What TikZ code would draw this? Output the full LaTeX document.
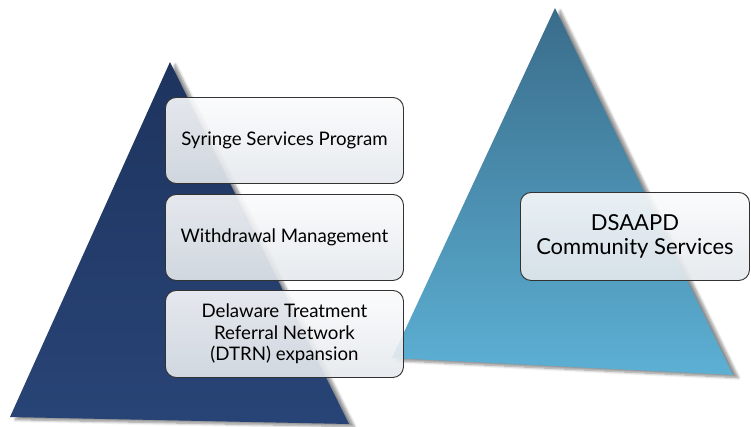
\documentclass[tikz,border=0pt]{standalone}
\usepackage{fontspec}
\setmainfont{Lato}
\usetikzlibrary{shadows,shadows.blur}
\definecolor{navytop}{RGB}{30,52,95}
\definecolor{navybot}{RGB}{40,68,118}
\definecolor{tealtop}{RGB}{58,108,138}
\definecolor{tealbot}{RGB}{92,176,212}
\definecolor{boxtop}{RGB}{250,251,252}
\definecolor{boxbot}{RGB}{228,232,236}
\definecolor{boxline}{RGB}{50,50,50}
\tikzset{
  tri/.style={blur shadow={shadow xshift=4pt,shadow yshift=-2pt,shadow blur steps=6,shadow opacity=45}},
  itembox/.style={draw=boxline,line width=0.7pt,rounded corners=8pt,
    top color=boxtop,bottom color=boxbot,fill opacity=0.9,text opacity=1,
    align=center,inner sep=0pt,anchor=north west,font=\fontsize{14pt}{16pt}\selectfont},
}
\begin{document}
\begin{tikzpicture}[x=0.75pt,y=-0.75pt]
\useasboundingbox (0,0) rectangle (751,426);
% left triangle
\path[tri,top color=navytop,bottom color=navybot] (170,62) -- (10,417) -- (349,424) -- cycle;
% right triangle
\path[tri,top color=tealtop,bottom color=tealbot] (555,8) -- (392,358) -- (733,375) -- cycle;
% boxes
\node[itembox,minimum width=238*0.75pt,minimum height=86*0.75pt] (b1) at (165,97)
  {Syringe Services Program};
\node[itembox,minimum width=238*0.75pt,minimum height=86*0.75pt] (b2) at (165,194)
  {Withdrawal Management};
\node[itembox,minimum width=238*0.75pt,minimum height=87*0.75pt] (b3) at (165,290)
  {Delaware Treatment\\Referral Network\\(DTRN) expansion};
\node[itembox,minimum width=229*0.75pt,minimum height=88*0.75pt,font=\fontsize{16.5pt}{18pt}\selectfont] (b4) at (520,192)
  {DSAAPD\\Community Services};
\end{tikzpicture}
\end{document}
